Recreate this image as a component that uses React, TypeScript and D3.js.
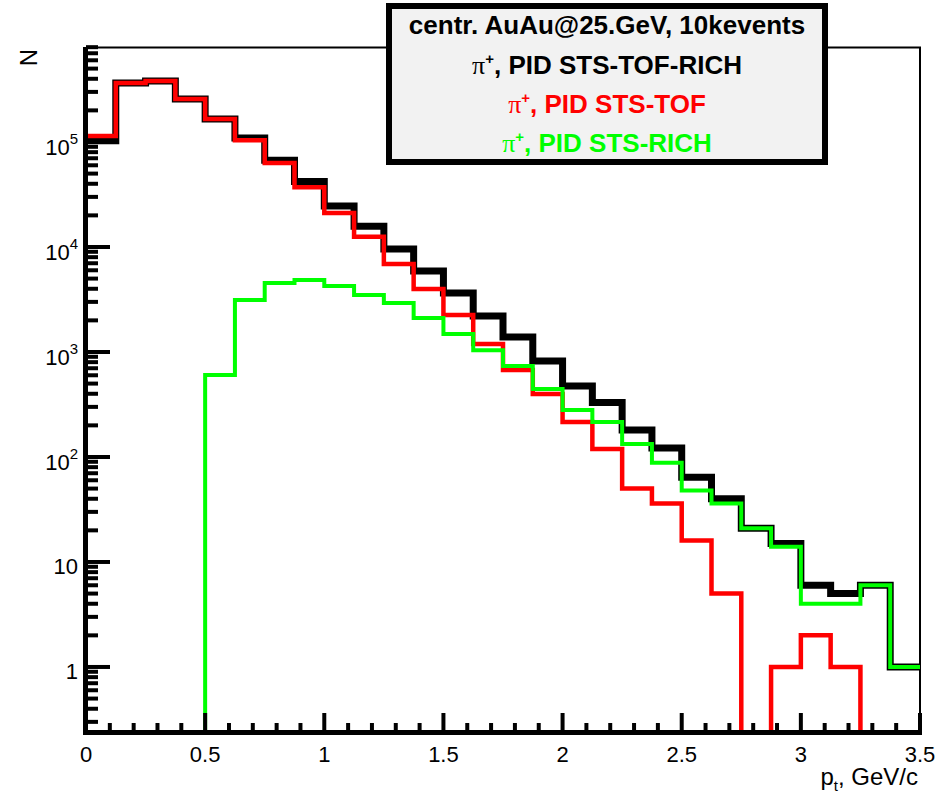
import React from "react";
import * as d3 from "d3";

// Lower edges of the p_t bins (GeV/c), bin width 0.125
const binLow = [
  0, 0.125, 0.25, 0.375, 0.5, 0.625, 0.75, 0.875, 1.0, 1.125, 1.25, 1.375, 1.5, 1.625,
  1.75, 1.875, 2.0, 2.125, 2.25, 2.375, 2.5, 2.625, 2.75, 2.875, 3.0, 3.125, 3.25, 3.375,
];
const binWidth = 0.125;

// pi+ counts per bin for the three PID selections
const stsTofRich = [
  1.03e5, 3.65e5, 3.8e5, 2.57e5, 1.66e5, 1.09e5, 6.7e4, 4.2e4, 2.46e4, 1.58e4, 9570, 5910,
  3650, 2200, 1390, 820, 475, 330, 181, 122, 64, 40, 21, 15, 6, 5, 6, 1,
];
const stsTof = [
  1.14e5, 3.65e5, 3.8e5, 2.57e5, 1.66e5, 1.04e5, 6.3e4, 3.7e4, 2.11e4, 1.25e4, 6890, 3980,
  2250, 1190, 674, 398, 215, 119, 50, 36, 16, 5, 0, 1, 2, 1, 0, 0,
];
const stsRich = [
  0, 0, 0, 0, 604, 3130, 4540, 4850, 4250, 3490, 2930, 2110, 1480, 1040, 736, 444, 280, 215,
  133, 88, 48, 36, 21, 14, 4, 4, 6, 1,
];

const xTickValues = [0, 0.5, 1, 1.5, 2, 2.5, 3, 3.5];
const xTickLabels = ["0", "0.5", "1", "1.5", "2", "2.5", "3", "3.5"];
const yDecades = [0, 1, 2, 3, 4, 5];

const W = 952;
const H = 797;
const frame = { left: 86, right: 920, top: 47, bottom: 733 };
const sans = "'Liberation Sans', Arial, Helvetica, sans-serif";
const serif = "'Liberation Serif', 'Times New Roman', serif";

const x = d3.scaleLinear().domain([0, 3.5]).range([frame.left, frame.right]);
const y = d3.scaleLog().domain([0.235, 8.03e5]).range([frame.bottom, frame.top]);

function histPath(values: number[]): string {
  const yv = (v: number) => (v > 0 ? y(v) : frame.bottom + 4);
  const path = d3.path();
  path.moveTo(x(binLow[0]), yv(values[0]));
  values.forEach((v, i) => {
    const x1 = x(binLow[i] + binWidth);
    path.lineTo(x1, yv(v));
    if (i + 1 < values.length) path.lineTo(x1, yv(values[i + 1]));
  });
  return path.toString();
}

export default function App() {
  const xMinor = d3.range(0, 36).map((k) => k / 10).filter((v) => v <= 3.5);
  const yMinor = y.ticks().filter((v) => {
    const l = Math.log10(v);
    return Math.abs(l - Math.round(l)) > 1e-9;
  });

  const legendCx = 607;

  return (
    <svg
      width={W}
      height={H}
      style={{ position: "absolute", left: 0, top: 0, display: "block", background: "#fff" }}
    >
      <defs>
        <clipPath id="plotArea">
          <rect
            x={frame.left}
            y={frame.top}
            width={frame.right - frame.left}
            height={frame.bottom - frame.top}
          />
        </clipPath>
      </defs>

      {/* frame: thin top and right edges */}
      <path
        d={`M${frame.left},${frame.top + 0.5}H${frame.right}V${frame.bottom}`}
        fill="none"
        stroke="#000"
        strokeWidth={2}
      />

      {/* histograms */}
      <g clipPath="url(#plotArea)" fill="none" strokeLinejoin="miter" strokeLinecap="butt">
        <path d={histPath(stsTofRich)} stroke="#000" strokeWidth={7} />
        <path d={histPath(stsTof)} stroke="#ff0000" strokeWidth={4.5} />
        <path d={histPath(stsRich)} stroke="#00ff00" strokeWidth={4} />
      </g>

      {/* x axis */}
      <g stroke="#000" strokeWidth={4}>
        {xMinor.map((v) => {
          const major = Math.abs(v * 2 - Math.round(v * 2)) < 1e-9;
          return (
            <line
              key={`xt${v}`}
              x1={x(v)}
              x2={x(v)}
              y1={frame.bottom}
              y2={frame.bottom - (major ? 20 : 10)}
            />
          );
        })}
      </g>
      <line
        x1={frame.left - 3}
        x2={frame.right + 2}
        y1={frame.bottom - 0.5}
        y2={frame.bottom - 0.5}
        stroke="#000"
        strokeWidth={5}
      />
      <g fontFamily={sans} fontSize={22} textAnchor="middle" fill="#000">
        {xTickValues.map((v, i) => (
          <text key={`xl${v}`} x={x(v)} y={762}>
            {xTickLabels[i]}
          </text>
        ))}
      </g>
      <text x={918} y={785} fontFamily={sans} fontSize={24} textAnchor="end">
        p
        <tspan fontSize={15} dy={6}>
          t
        </tspan>
        <tspan dy={-6}>, GeV/c</tspan>
      </text>

      {/* y axis */}
      <line
        x1={frame.left - 0.5}
        x2={frame.left - 0.5}
        y1={frame.top}
        y2={frame.bottom + 2}
        stroke="#000"
        strokeWidth={5}
      />
      <g stroke="#000" strokeWidth={4}>
        {yMinor.map((v) => (
          <line key={`ym${v}`} x1={frame.left} x2={frame.left + 12} y1={y(v)} y2={y(v)} />
        ))}
        {yDecades.map((d) => (
          <line
            key={`yM${d}`}
            x1={frame.left}
            x2={frame.left + 24}
            y1={y(Math.pow(10, d))}
            y2={y(Math.pow(10, d))}
          />
        ))}
      </g>
      <g fontFamily={sans} fontSize={22} textAnchor="end" fill="#000">
        {yDecades.map((d) => {
          const ty = y(Math.pow(10, d));
          if (d === 0) {
            return (
              <text key={`yl${d}`} x={78} y={ty + 12}>
                1
              </text>
            );
          }
          if (d === 1) {
            return (
              <text key={`yl${d}`} x={78} y={ty + 12}>
                10
              </text>
            );
          }
          return (
            <text key={`yl${d}`} x={78} y={ty + 13}>
              10
              <tspan fontSize={15} dy={-11}>
                {String(d)}
              </tspan>
            </text>
          );
        })}
      </g>
      <text
        transform="translate(37,49) rotate(-90)"
        fontFamily={sans}
        fontSize={24}
        textAnchor="end"
      >
        N
      </text>

      {/* legend */}
      <rect x={389} y={6} width={436} height={156} fill="#f2f2f2" stroke="#000" strokeWidth={6} />
      <g fontFamily={sans} fontSize={26} fontWeight="bold" textAnchor="middle">
        <text x={legendCx} y={34} fill="#000">
          centr. AuAu@25.GeV, 10kevents
        </text>
        <text x={legendCx} y={74} fill="#000">
          <tspan fontFamily={serif} fontWeight="normal">π</tspan>
          <tspan fontSize={15} dy={-10}>+</tspan>
          <tspan dy={10}>, PID STS-TOF-RICH</tspan>
        </text>
        <text x={legendCx} y={113} fill="#ff0000">
          <tspan fontFamily={serif} fontWeight="normal">π</tspan>
          <tspan fontSize={15} dy={-10}>+</tspan>
          <tspan dy={10}>, PID STS-TOF</tspan>
        </text>
        <text x={legendCx} y={152} fill="#00ff00">
          <tspan fontFamily={serif} fontWeight="normal">π</tspan>
          <tspan fontSize={15} dy={-10}>+</tspan>
          <tspan dy={10}>, PID STS-RICH</tspan>
        </text>
      </g>
    </svg>
  );
}
